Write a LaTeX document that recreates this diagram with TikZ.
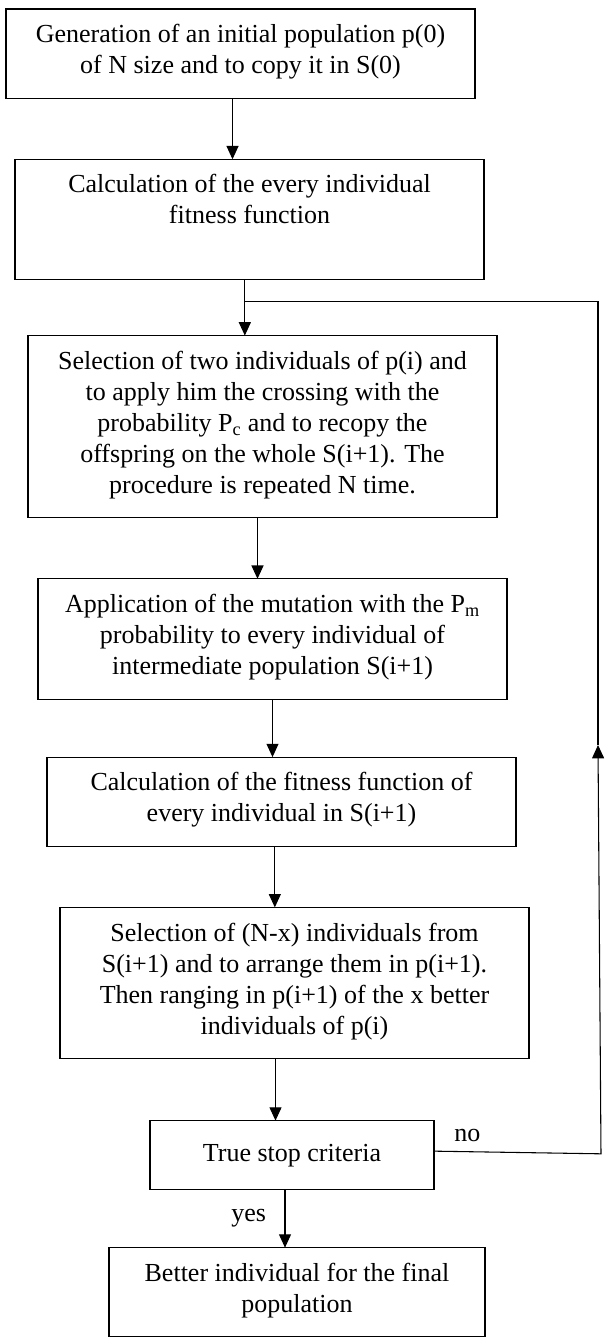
\documentclass[tikz,border=0pt]{standalone}
\usepackage{fontspec}
\setmainfont{Liberation Serif}
\usetikzlibrary{positioning, arrows.meta}

\begin{document}
\begin{tikzpicture}[
		>={Triangle[length=10pt, width=9pt]},
		x=1pt, y=1pt,
		stepbox/.style={draw, line width=0.8pt, outer sep=0pt, align=center, minimum width=351.75pt, inner ysep=11.5pt, font=\fontsize{19.5}{23.25}\selectfont, execute at begin node=\strut, execute at end node=\strut},
		flow/.style={->, line width=0.8pt},
		link/.style={line width=0.8pt},
		answer/.style={font=\fontsize{19.5}{23.25}\selectfont}
		]
		
		\useasboundingbox (0,0) rectangle (453,-1005);
		
		% ==========================================
		% STEPS
		% ==========================================
		
		\node[stepbox, anchor=north west] (Init) at (4.5,-6.75) {Generation of an initial population p(0)\\ of N size and to copy it in S(0)};
		
		\node[stepbox, below=45.75pt of Init.south west, anchor=north west, xshift=6.75pt] (Fitness) {Calculation of the every individual\\ fitness function\\ \mbox{}};
		
		\node[stepbox, below=42pt of Fitness.south west, anchor=north west, xshift=9.75pt] (Cross) {Selection of two individuals of p(i) and\\ to apply him the crossing with the\\ probability P\textsubscript{c} and to recopy the\\ offspring on the whole S(i+1). The\\ procedure is repeated N time.};
		
		\node[stepbox, below=45.75pt of Cross.south west, anchor=north west, xshift=7.5pt] (Mutate) {Application of the mutation with the P\textsubscript{m}\\ probability to every individual of\\ intermediate population S(i+1)};
		
		\node[stepbox, below=43.5pt of Mutate.south west, anchor=north west, xshift=6.75pt] (Eval) {Calculation of the fitness function of\\ every individual in S(i+1)};
		
		\node[stepbox, below=45.75pt of Eval.south west, anchor=north west, xshift=9.75pt] (Replace) {Selection of (N-x) individuals from\\ S(i+1) and to arrange them in p(i+1).\\ Then ranging in p(i+1) of the x better\\ individuals of p(i)};
		
		\node[stepbox, minimum width=213pt, minimum height=51.75pt, below=46.5pt of Replace.south west, anchor=north west, xshift=67.5pt] (Stop) {True stop criteria};
		
		\node[stepbox, minimum width=282pt, below=43.5pt of Stop.south west, anchor=north west, xshift=-30.75pt] (Best) {Better individual for the final\\ population};
		
		% ==========================================
		% ARROWS
		% ==========================================
		
		\draw[flow] ([xshift=-6pt]Init.south) -- ([xshift=-6pt]Init.south |- Fitness.north);
		\draw[flow] ([xshift=-3.5pt]Fitness.south) -- ([xshift=-3.5pt]Fitness.south |- Cross.north);
		\draw[flow] ([xshift=-3.75pt]Cross.south) -- ([xshift=-3.75pt]Cross.south |- Mutate.north);
		\draw[flow] (Mutate.south) -- (Mutate.south |- Eval.north);
		\draw[flow] ([xshift=-5pt]Eval.south) -- ([xshift=-5pt]Eval.south |- Replace.north);
		\draw[flow] ([xshift=-14.25pt]Replace.south) -- ([xshift=-14.25pt]Replace.south |- Stop.north);
		\draw[flow] ([xshift=-5.25pt]Stop.south) -- node[left=10.5pt, answer] (Yes) {yes} ([xshift=-5.25pt]Stop.south |- Best.north);
		
		% Loop back
		\coordinate[below=16.5pt of Fitness.south, xshift=-3.5pt] (Join);
		\coordinate[right=125.25pt of Stop.east, yshift=1pt] (NoEnd);
		\coordinate (Tip) at (448.5,-558.75);
		\coordinate (Corner) at (Tip |- Join);
		
		\draw[flow] ([yshift=3pt]Stop.east) -- node[above, answer, pos=0.2, yshift=3.5pt] (No) {no} (NoEnd) -- (Tip);
		\draw[link] (Tip) -- (Corner) -- (Join);
		
	\end{tikzpicture}
\end{document}
